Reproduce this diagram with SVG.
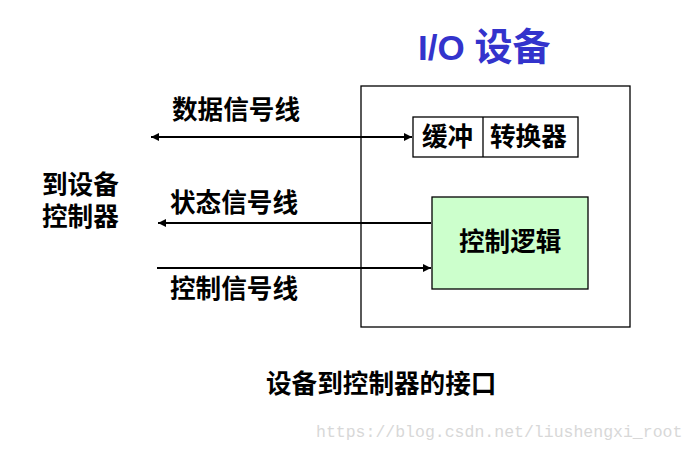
<svg xmlns="http://www.w3.org/2000/svg" width="696" height="451" viewBox="0 0 696 451">
<style>
.t{font-family:"Noto Sans CJK SC","Liberation Sans",sans-serif;font-weight:bold;fill:#000;font-size:25.6px}
.box{fill:#fff;stroke:#000;stroke-width:1.3}
.ln{stroke:#000;stroke-width:2;fill:none}
</style>
<defs>
<marker id="ah" viewBox="0 0 10 10" refX="10" refY="5" markerWidth="5" markerHeight="4" orient="auto-start-reverse" markerUnits="strokeWidth">
<path d="M0,0L10,5L0,10z" fill="#000"/>
</marker>
</defs>
<rect width="696" height="451" fill="#fff"/>
<text x="418" y="60" font-family="Liberation Sans,Noto Sans CJK SC,sans-serif" font-weight="bold" font-size="35" fill="#3333cc">I/O <tspan font-family="Noto Sans CJK SC,sans-serif" font-size="38">设备</tspan></text>
<g id="device">
<rect class="box" x="361" y="86" width="269" height="241"/>
</g>
<g id="buffer">
<rect class="box" x="413" y="117" width="165" height="40"/>
<line x1="483" y1="117" x2="483" y2="157" stroke="#000" stroke-width="1.3"/>
<text class="t" x="422" y="146" font-size="24">缓冲</text>
<text class="t" x="490" y="146">转换器</text>
</g>
<g id="logic">
<rect x="432" y="197" width="156" height="92" fill="#ccffcc" stroke="#000" stroke-width="1.3"/>
<text class="t" x="459" y="251">控制逻辑</text>
</g>
<g id="connectors">
<line class="ln" x1="151" y1="137" x2="412" y2="137" marker-start="url(#ah)" marker-end="url(#ah)"/>
<line class="ln" x1="431" y1="223" x2="158" y2="223" marker-end="url(#ah)"/>
<line class="ln" x1="157" y1="268" x2="431" y2="268" marker-end="url(#ah)"/>
</g>
<g id="labels">
<text class="t" x="42" y="194">到设备</text>
<text class="t" x="42" y="226">控制器</text>
<text class="t" x="172" y="119">数据信号线</text>
<text class="t" x="170" y="212">状态信号线</text>
<text class="t" x="170" y="298">控制信号线</text>
<text class="t" x="266" y="393">设备到控制器的接口</text>
</g>
<text x="316" y="437" font-family="Liberation Mono,monospace" font-size="16.5" fill="#d8d8d8">https://blog.csdn.net/liushengxi_root</text>
</svg>
